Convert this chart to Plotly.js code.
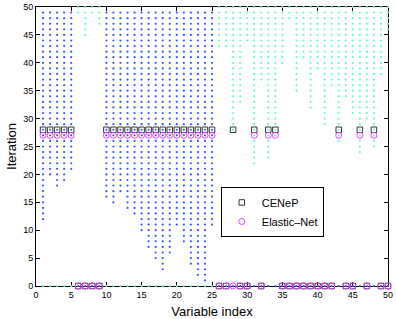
<!DOCTYPE html>
<html>
<head>
<meta charset="utf-8">
<script src="https://cdn.plot.ly/plotly-3.0.1.min.js"></script>
<style>html,body{margin:0;padding:0;background:#fff;}#chart{width:396px;height:319px;}</style>
</head>
<body>
<div id="chart"></div>
<script>
// Variables whose columns are drawn in blue, and the first iteration at which each column starts (up to 49)
var blueVars  = [1, 2, 3, 4, 5, 10, 11, 12, 13, 14, 15, 16, 17, 18, 19, 20, 21, 22, 23, 24, 25];
var blueStart = [12, 20, 18, 19, 21, 16, 15, 17, 14, 13, 10, 7, 5, 3, 6, 11, 8, 4, 2, 1, 11];
var blueTop = 49;

// Variables whose columns are drawn in cyan, and their first iteration (up to 50)
var cyanVars  = [6, 7, 8, 9, 26, 27, 28, 29, 30, 31, 32, 33, 34, 35, 36, 37, 38, 39, 40, 41, 42, 43, 44, 45, 46, 47, 48, 49, 50];
var cyanStart = [49, 45, 49, 47, 43, 43, 28, 33, 44, 22, 37, 23, 27, 40, 48, 35, 41, 32, 39, 29, 36, 26, 34, 31, 24, 30, 25, 38, 46];
var cyanTop = 50;

// Final iteration marked per variable (1..50)
var variables = [];
for (var v = 1; v <= 50; v++) variables.push(v);
var cenepIter = [28,28,28,28,28, 0,0,0,0, 28,28,28,28,28,28,28,28,28,28,28,28,28,28,28,28,
                 0,0,28,0,0,28,0,28,28,0,0,0,0,0,0,0,0,28,0,0,28,0,28,0,0];
var enetIter  = [27,27,27,27,27, 0,0,0,0, 27,27,27,27,27,27,27,27,27,27,27,27,27,27,27,27,
                 0,0,0,0,0,27,0,27,27,0,0,0,0,0,0,0,0,27,0,0,27,0,27,0,0];

var bx = [], by = [], cx = [], cy = [];
blueVars.forEach(function (v, i) {
  for (var it = blueStart[i]; it <= blueTop; it++) { bx.push(v); by.push(it); }
  cx.push(v); cy.push(0);
});
cyanVars.forEach(function (v, i) {
  for (var it = cyanStart[i]; it <= cyanTop; it++) { cx.push(v); cy.push(it); }
  bx.push(v); by.push(0);
});

var traces = [
  {x: bx, y: by, mode: 'markers', type: 'scatter', showlegend: false, cliponaxis: false,
   marker: {color: '#3a58ff', size: 2.2}, hoverinfo: 'skip'},
  {x: cx, y: cy, mode: 'markers', type: 'scatter', showlegend: false, cliponaxis: false,
   marker: {color: '#6af7cf', size: 2.2}, hoverinfo: 'skip'},
  {x: variables, y: cenepIter, mode: 'markers', type: 'scatter', name: 'CENeP', cliponaxis: false,
   marker: {symbol: 'square-open', color: '#333333', size: 5.5, line: {width: 1, color: '#333333'}}},
  {x: variables, y: enetIter, mode: 'markers', type: 'scatter', name: 'Elastic\u2013Net', cliponaxis: false,
   marker: {symbol: 'circle-open', color: '#dd44ff', size: 6, line: {width: 1, color: '#dd44ff'}}}
];

var axisCommon = {
  showgrid: false, zeroline: false, showline: true, linecolor: '#000', linewidth: 1,
  mirror: 'ticks', ticks: 'inside', ticklen: 4, tickcolor: '#000', tickwidth: 1,
  dtick: 5, tick0: 0, layer: 'below traces',
  tickfont: {family: 'Liberation Sans, Arial, sans-serif', size: 9, color: '#000'}
};

var layout = {
  width: 396, height: 319,
  margin: {l: 36, r: 8, t: 7, b: 33},
  paper_bgcolor: '#fff', plot_bgcolor: '#fff',
  font: {family: 'Liberation Sans, Arial, sans-serif', color: '#000'},
  xaxis: Object.assign({}, axisCommon, {range: [0, 50],
    title: {text: 'Variable index', font: {size: 13}, standoff: 9}}),
  yaxis: Object.assign({}, axisCommon, {range: [0, 50],
    title: {text: 'Iteration', font: {size: 13}, standoff: 3}}),
  legend: {x: 0.525, y: 0.355, xanchor: 'left', yanchor: 'top',
    bgcolor: '#fff', bordercolor: '#000', borderwidth: 1,
    font: {size: 11}, tracegroupgap: 0, itemwidth: 30},
  showlegend: true
};

Plotly.newPlot('chart', traces, layout, {displayModeBar: false, staticPlot: true});
</script>
</body>
</html>
